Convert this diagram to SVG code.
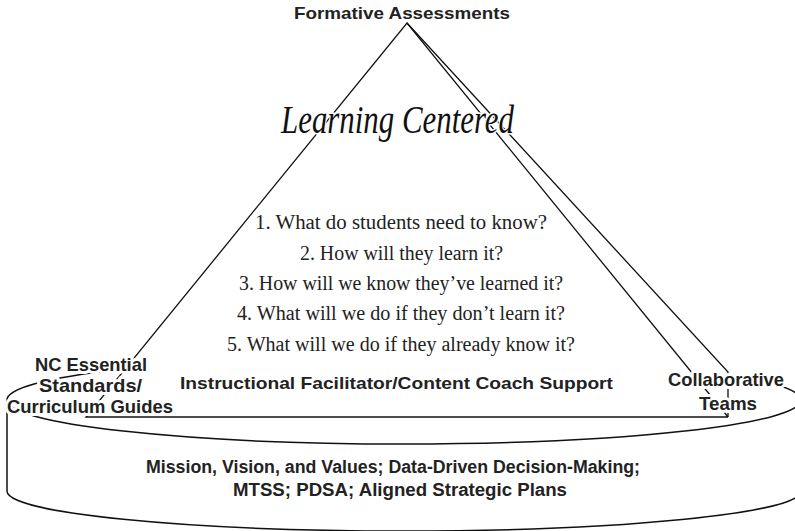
<svg xmlns="http://www.w3.org/2000/svg" width="795" height="531" viewBox="0 0 795 531">
<style>
.ln{fill:none;stroke:#111;stroke-width:1.3}
.sans{font-family:"Liberation Sans",Arial,sans-serif;font-weight:bold;fill:#222}
.halo{stroke:#fff;stroke-width:6;stroke-linejoin:round;paint-order:stroke}
.q{font-family:"Liberation Serif","Times New Roman",serif;font-size:20px;fill:#222}
.script{font-family:"Liberation Serif","DejaVu Serif",serif;font-style:italic;font-size:40px;fill:#111;stroke:#fff;stroke-width:3;paint-order:stroke}
</style>
<rect width="795" height="531" fill="#fff"/>
<g id="base">
  <path d="M7,400 L7,491 A397,40 0 0 0 801,491 L801,400" fill="#fff" stroke="#111" stroke-width="1.5"/>
  <ellipse cx="404" cy="400" rx="397" ry="44" fill="#fff" stroke="#111" stroke-width="1.5"/>
</g>
<g id="pyramid">
  <polygon points="407,23 86,417 728,417 728,372" fill="#fff"/>
  <polyline class="ln" points="728,417 86,417 407,23 728,417"/>
  <polyline class="ln" points="407,23 728,372 728,417"/>
</g>
<g id="title">
  <text class="sans" x="294" y="19" font-size="17" textLength="216" lengthAdjust="spacingAndGlyphs">Formative Assessments</text>
</g>
<g id="learning-centered">
  <text class="script" x="281" y="133" textLength="233" lengthAdjust="spacingAndGlyphs">Learning Centered</text>
</g>
<g id="questions">
  <text class="q" x="255" y="229" textLength="292" lengthAdjust="spacingAndGlyphs">1. What do students need to know?</text>
  <text class="q" x="300" y="260" textLength="203" lengthAdjust="spacingAndGlyphs">2. How will they learn it?</text>
  <text class="q" x="239" y="290" textLength="324" lengthAdjust="spacingAndGlyphs">3. How will we know they’ve learned it?</text>
  <text class="q" x="237" y="320" textLength="328" lengthAdjust="spacingAndGlyphs">4. What will we do if they don’t learn it?</text>
  <text class="q" x="227" y="351" textLength="348" lengthAdjust="spacingAndGlyphs">5. What will we do if they already know it?</text>
</g>
<g id="support">
  <text class="sans" x="180" y="389" font-size="17" textLength="433" lengthAdjust="spacingAndGlyphs">Instructional Facilitator/Content Coach Support</text>
</g>
<g id="standards">
  <text class="sans halo" x="35" y="371" font-size="18.5" textLength="112" lengthAdjust="spacingAndGlyphs">NC Essential</text>
  <text class="sans halo" x="39" y="392" font-size="18.5" textLength="103" lengthAdjust="spacingAndGlyphs">Standards/</text>
  <text class="sans halo" x="7" y="413" font-size="18.5" textLength="166" lengthAdjust="spacingAndGlyphs">Curriculum Guides</text>
</g>
<g id="teams">
  <text class="sans halo" x="668" y="386" font-size="19" textLength="116" lengthAdjust="spacingAndGlyphs">Collaborative</text>
  <text class="sans halo" x="699" y="410" font-size="19" textLength="58" lengthAdjust="spacingAndGlyphs">Teams</text>
</g>
<g id="foundation">
  <text class="sans" x="146" y="473" font-size="18" textLength="494" lengthAdjust="spacingAndGlyphs">Mission, Vision, and Values; Data-Driven Decision-Making;</text>
  <text class="sans" x="233" y="496" font-size="18" textLength="334" lengthAdjust="spacingAndGlyphs">MTSS; PDSA; Aligned Strategic Plans</text>
</g>
</svg>
